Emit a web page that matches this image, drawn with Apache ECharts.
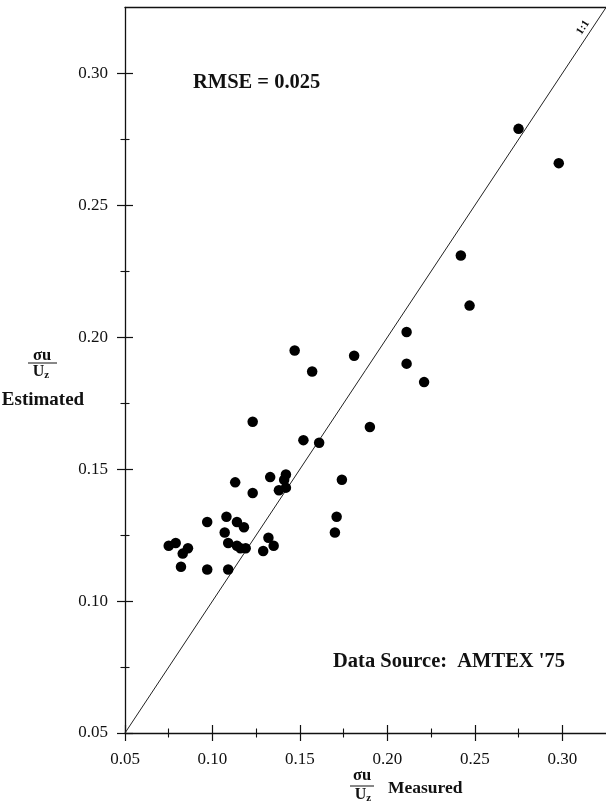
<!DOCTYPE html>
<html>
<head>
<meta charset="utf-8">
<script src="https://cdn.jsdelivr.net/npm/echarts@6/dist/echarts.min.js"></script>
<style>
html,body{margin:0;padding:0;background:#fff;}
#chart{width:606px;height:803px;}
</style>
</head>
<body>
<div id="chart"></div>
<script>
// ---- data ----
const measured = [
  0.275, 0.298, 0.242, 0.247, 0.211, 0.211, 0.221,
  0.147, 0.181, 0.157, 0.123, 0.190, 0.152, 0.161,
  0.174, 0.113, 0.133, 0.142, 0.141, 0.142, 0.138, 0.123,
  0.097, 0.108, 0.114, 0.118, 0.107,
  0.171, 0.170,
  0.132, 0.135, 0.129,
  0.075, 0.079, 0.083, 0.086,
  0.109, 0.114, 0.116, 0.119,
  0.082, 0.097, 0.109
];
const estimated = [
  0.279, 0.266, 0.231, 0.212, 0.202, 0.190, 0.183,
  0.195, 0.193, 0.187, 0.168, 0.166, 0.161, 0.160,
  0.146, 0.145, 0.147, 0.148, 0.146, 0.143, 0.142, 0.141,
  0.130, 0.132, 0.130, 0.128, 0.126,
  0.132, 0.126,
  0.124, 0.121, 0.119,
  0.121, 0.122, 0.118, 0.120,
  0.122, 0.121, 0.120, 0.120,
  0.113, 0.112, 0.112
];
const majorTicks = [0.05, 0.10, 0.15, 0.20, 0.25, 0.30];
const minorTicks = [0.075, 0.125, 0.175, 0.225, 0.275];
const axisRange = [0.05, 0.325];
const oneToOne = [0.05, 0.325];

const points = measured.map((m, i) => [m, estimated[i]]);
const linePts = oneToOne.map(v => [v, v]);

const FONT = 'Liberation Serif';
const INK = '#111';
const GRID = {left: 125, right: 0, top: 7.5, bottom: 70};
const W = 606, H = 803;
const gridW = W - GRID.left - GRID.right;
const gridH = H - GRID.top - GRID.bottom;

function makeAxes(dir) {
  const isX = dir === 'x';
  const near = isX ? 'bottom' : 'left';
  const far = isX ? 'top' : 'right';
  const span = isX ? gridH : gridW;
  const base = {
    type: 'value', min: axisRange[0], max: axisRange[1],
    splitLine: {show: false}, axisLine: {show: false},
    axisLabel: {show: false}, axisTick: {show: false}
  };
  const tick = (vals, len, w) => ({show: true, inside: false, length: len, customValues: vals,
                                   lineStyle: {color: INK, width: w}});
  return [
    // main axis: line, labels, outward major ticks
    Object.assign({}, base, {
      position: near,
      axisLine: {show: true, lineStyle: {color: INK, width: 1.3}},
      axisTick: tick(majorTicks, 8, 1.2),
      axisLabel: {show: true, customValues: majorTicks, margin: isX ? 18 : 17,
                  color: INK, fontFamily: FONT, fontSize: 17,
                  formatter: v => Number(v).toFixed(2)}
    }),
    // outward minor ticks
    Object.assign({}, base, {position: near, axisTick: tick(minorTicks, 4.5, 1.1)}),
    // inward halves: far-side axes shifted onto the near edge, ticks pointing into the plot
    Object.assign({}, base, {position: far, offset: -span, axisTick: tick(majorTicks, 8, 1.2)}),
    Object.assign({}, base, {position: far, offset: -span, axisTick: tick(minorTicks, 4.5, 1.1)}),
    // frame line on the far side (top only)
    Object.assign({}, base, {position: far,
      axisLine: {show: isX, lineStyle: {color: INK, width: 1.3}}})
  ];
}

const chart = echarts.init(document.getElementById('chart'), null, {renderer: 'canvas'});
const boldText = (txt, x, y, size, align) => ({
  type: 'text', x: x, y: y, silent: true,
  style: {text: txt, fill: INK, font: 'bold ' + size + 'px "' + FONT + '"',
          align: align || 'left', verticalAlign: 'middle'}
});
const uz = (x, y) => ({
  type: 'text', x: x, y: y, silent: true,
  style: {text: '{u|U}{z|z}', align: 'center', verticalAlign: 'middle',
          rich: {u: {fontFamily: FONT, fontWeight: 'bold', fontSize: 16, fill: INK, color: INK},
                 z: {fontFamily: FONT, fontWeight: 'bold', fontSize: 11, fill: INK, color: INK,
                     verticalAlign: 'bottom', padding: [6, 0, 0, 0]}}}
});
const bar = (x1, x2, y) => ({
  type: 'line', silent: true, shape: {x1: x1, y1: y, x2: x2, y2: y},
  style: {stroke: INK, lineWidth: 1}
});

chart.setOption({
  animation: false,
  backgroundColor: '#fff',
  grid: Object.assign({containLabel: false, outerBoundsMode: 'none'}, GRID),
  xAxis: makeAxes('x'),
  yAxis: makeAxes('y'),
  series: [
    {type: 'line', data: linePts, showSymbol: false, symbol: 'none',
     lineStyle: {color: '#222', width: 1}, z: 1, silent: true},
    {type: 'scatter', data: points, symbol: 'circle', symbolSize: 10.5,
     itemStyle: {color: '#000', opacity: 1}, z: 3}
  ],
  graphic: [
    boldText('RMSE = 0.025', 193, 83, 20.5),
    boldText("Data Source:  AMTEX '75", 333, 662, 20.5),
    // y axis title
    boldText('\u03c3u', 42, 356, 16.5, 'center'),
    bar(28, 57, 363),
    uz(41, 372),
    boldText('Estimated', 43, 400, 19, 'center'),
    // x axis title
    boldText('\u03c3u', 362, 776, 16.5, 'center'),
    bar(350, 374, 786),
    uz(363, 795),
    boldText('Measured', 388, 788, 17.5, 'left'),
    // 1:1 label
    {type: 'text', x: 583, y: 27.5, rotation: 0.984, silent: true,
     style: {text: '1:1', fill: INK, font: 'bold 11px "' + FONT + '"',
             align: 'center', verticalAlign: 'middle'}}
  ]
});
</script>
</body>
</html>
